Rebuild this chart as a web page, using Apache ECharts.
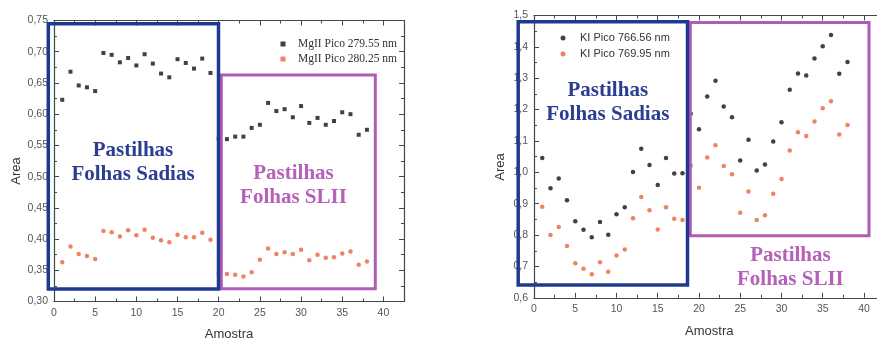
<!DOCTYPE html>
<html>
<head>
<meta charset="utf-8">
<script src="https://cdn.jsdelivr.net/npm/echarts@6/dist/echarts.min.js"></script>
<style>
  html, body { margin: 0; padding: 0; background: #ffffff; }
  #chart { width: 877px; height: 338px; }
</style>
</head>
<body>
<div id="chart"></div>
<script>
// ---- Data ----
const amostra = [1,2,3,4,5,6,7,8,9,10,11,12,13,14,15,16,17,18,19,20,21,22,23,24,25,26,27,28,29,30,31,32,33,34,35,36,37,38];

const mgNames = ['MgII Pico 279.55 nm', 'MgII Pico 280.25 nm'];
const mg27955 = [0.623,0.668,0.646,0.643,0.637,0.698,0.695,0.683,0.690,0.678,0.696,0.681,0.665,0.659,0.688,0.682,0.673,0.689,0.666,0.561,0.560,0.564,0.564,0.578,0.583,0.618,0.605,0.608,0.595,0.613,0.586,0.594,0.583,0.589,0.603,0.600,0.567,0.575];
const mg28025 = [0.363,0.388,0.376,0.373,0.368,0.413,0.411,0.404,0.414,0.406,0.415,0.402,0.398,0.395,0.407,0.403,0.403,0.410,0.399,0.345,0.344,0.343,0.340,0.347,0.367,0.385,0.376,0.379,0.376,0.383,0.366,0.375,0.370,0.371,0.377,0.380,0.359,0.364];

const kNames = ['KI Pico 766.56 nm', 'KI Pico 769.95 nm'];
const k76656 = [1.046,0.949,0.980,0.911,0.844,0.817,0.793,0.842,0.801,0.866,0.889,1.001,1.075,1.023,0.960,1.046,0.996,0.997,1.187,1.137,1.242,1.292,1.210,1.176,1.038,1.104,1.006,1.025,1.098,1.160,1.263,1.315,1.309,1.363,1.402,1.438,1.314,1.352];
const k76995 = [0.890,0.800,0.826,0.765,0.710,0.693,0.675,0.713,0.683,0.735,0.754,0.854,0.921,0.879,0.818,0.889,0.852,0.848,1.021,0.951,1.047,1.086,1.020,0.994,0.871,0.939,0.848,0.863,0.932,0.979,1.070,1.128,1.116,1.162,1.204,1.227,1.121,1.151];

const xTicks = { min: 0, max: 42.5, interval: 5 };
const mgTicks = { min: 0.30, max: 0.75, interval: 0.05 };
const kTicks = { min: 0.6, max: 1.5, interval: 0.1 };

// ---- Styles ----
const axisColor = '#3b4a4a';
const black = '#111111';
const orange = '#e8643c';
const blueBox = '#1e3a8e';
const blueText = '#2c3e92';
const purpleBox = '#b25bb6';
const purpleText = '#b660b9';

function pair(xs, ys) { return xs.map((x, i) => [x, ys[i]]); }
function comma(d) { return v => v.toFixed(d).replace('.', ','); }

function xAxis(gridIndex, position, showLabel, name, gap) {
  return {
    type: 'value', gridIndex, position,
    min: xTicks.min, max: xTicks.max, interval: xTicks.interval,
    name: name || '', nameLocation: 'middle', nameGap: gap || 26,
    nameTextStyle: { fontFamily: 'Liberation Sans', fontSize: 13, color: '#333' },
    axisLine: { show: true, onZero: false, lineStyle: { color: axisColor, width: 1.2 } },
    axisTick: { show: true, inside: true, length: 5, lineStyle: { color: axisColor } },
    minorTick: { show: true, splitNumber: 2, length: 3, lineStyle: { color: axisColor } },
    splitLine: { show: false },
    axisLabel: {
      show: showLabel, margin: 6, fontFamily: 'Liberation Sans', fontSize: 10.5, color: '#555',
      formatter: v => (Math.abs(v % 5) < 1e-9 ? String(v) : '')
    }
  };
}
function yAxis(gridIndex, position, showLabel, t, dec) {
  return {
    type: 'value', gridIndex, position,
    min: t.min, max: t.max, interval: t.interval,
    axisLine: { show: true, onZero: false, lineStyle: { color: axisColor, width: 1.2 } },
    axisTick: { show: true, inside: true, length: 5, lineStyle: { color: axisColor } },
    minorTick: { show: true, splitNumber: 2, length: 3, lineStyle: { color: axisColor } },
    splitLine: { show: false },
    axisLabel: { show: showLabel, margin: 6, fontFamily: 'Liberation Sans', fontSize: 10.5, color: '#555', formatter: comma(dec) }
  };
}

const chart = echarts.init(document.getElementById('chart'), null, { renderer: 'canvas' });

function boxText(lines, cx, cy, color) {
  return lines.map((s, i) => ({
    type: 'text', z: 110,
    x: cx, y: cy + i * 24,
    style: { text: s, fill: color, font: 'bold 21px "Liberation Serif"', textAlign: 'center', textVerticalAlign: 'middle' }
  }));
}
function rect(x1, y1, x2, y2, color, lw) {
  return { type: 'rect', z: 100, shape: { x: x1, y: y1, width: x2 - x1, height: y2 - y1 },
           style: { fill: 'none', stroke: color, lineWidth: lw } };
}
function vText(s, cx, cy) {
  return { type: 'text', z: 110, x: cx, y: cy, rotation: Math.PI / 2,
           style: { text: s, fill: '#333', font: '13px "Liberation Sans"', textAlign: 'center', textVerticalAlign: 'middle' } };
}

chart.setOption({
  animation: false,
  backgroundColor: '#ffffff',
  grid: [
    { left: 54, top: 20.5, width: 350, height: 281, containLabel: false, outerBoundsMode: 'none' },
    { left: 534, top: 15.5, width: 350.6, height: 282.3, containLabel: false, outerBoundsMode: 'none' }
  ],
  xAxis: [
    xAxis(0, 'bottom', true, 'Amostra', 26),
    xAxis(0, 'top', false),
    xAxis(1, 'bottom', true, 'Amostra', 27),
    xAxis(1, 'top', false)
  ],
  yAxis: [
    yAxis(0, 'left', true, mgTicks, 2),
    yAxis(0, 'right', false, mgTicks, 2),
    yAxis(1, 'left', true, kTicks, 1),
    yAxis(1, 'right', false, kTicks, 1)
  ],
  legend: [
    {
      data: mgNames, orient: 'vertical', left: 275.5, top: 32.5,
      itemWidth: 5, itemHeight: 5, itemGap: 2, icon: 'rect',
      textStyle: { fontFamily: 'Liberation Serif', fontSize: 11.5, color: '#333', lineHeight: 13, padding: [0, 0, 0, 7.5] }
    },
    {
      data: kNames, orient: 'vertical', left: 555.5, top: 26.5,
      itemWidth: 5, itemHeight: 5, itemGap: 3, icon: 'circle',
      textStyle: { fontFamily: 'Liberation Sans', fontSize: 11, color: '#333', lineHeight: 13, padding: [0, 0, 0, 9.5] }
    }
  ],
  series: [
    { name: mgNames[0], type: 'scatter', xAxisIndex: 0, yAxisIndex: 0, symbol: 'rect', symbolSize: 4,
      itemStyle: { color: black }, data: pair(amostra, mg27955) },
    { name: mgNames[1], type: 'scatter', xAxisIndex: 0, yAxisIndex: 0, symbol: 'circle', symbolSize: 4.5,
      itemStyle: { color: orange }, data: pair(amostra, mg28025) },
    { name: kNames[0], type: 'scatter', xAxisIndex: 2, yAxisIndex: 2, symbol: 'circle', symbolSize: 4.5,
      itemStyle: { color: black }, data: pair(amostra, k76656) },
    { name: kNames[1], type: 'scatter', xAxisIndex: 2, yAxisIndex: 2, symbol: 'circle', symbolSize: 4.5,
      itemStyle: { color: orange }, data: pair(amostra, k76995) }
  ],
  graphic: [
    rect(221.3, 75, 375.3, 288.7, purpleBox, 3),
    rect(48.3, 23.7, 218.5, 289, blueBox, 3.5),
    rect(690.3, 22.5, 869, 235.8, purpleBox, 3),
    rect(518.2, 21.7, 687.5, 285, blueBox, 3.5),
    ...boxText(['Pastilhas', 'Folhas Sadias'], 133, 151, blueText),
    ...boxText(['Pastilhas', 'Folhas SLII'], 293.5, 173.5, purpleText),
    ...boxText(['Pastilhas', 'Folhas Sadias'], 607.8, 90.3, blueText),
    ...boxText(['Pastilhas', 'Folhas SLII'], 790.4, 255.2, purpleText),
    vText('Area', 16.7, 171),
    vText('Area', 500.5, 167)
  ]
});
</script>
</body>
</html>
